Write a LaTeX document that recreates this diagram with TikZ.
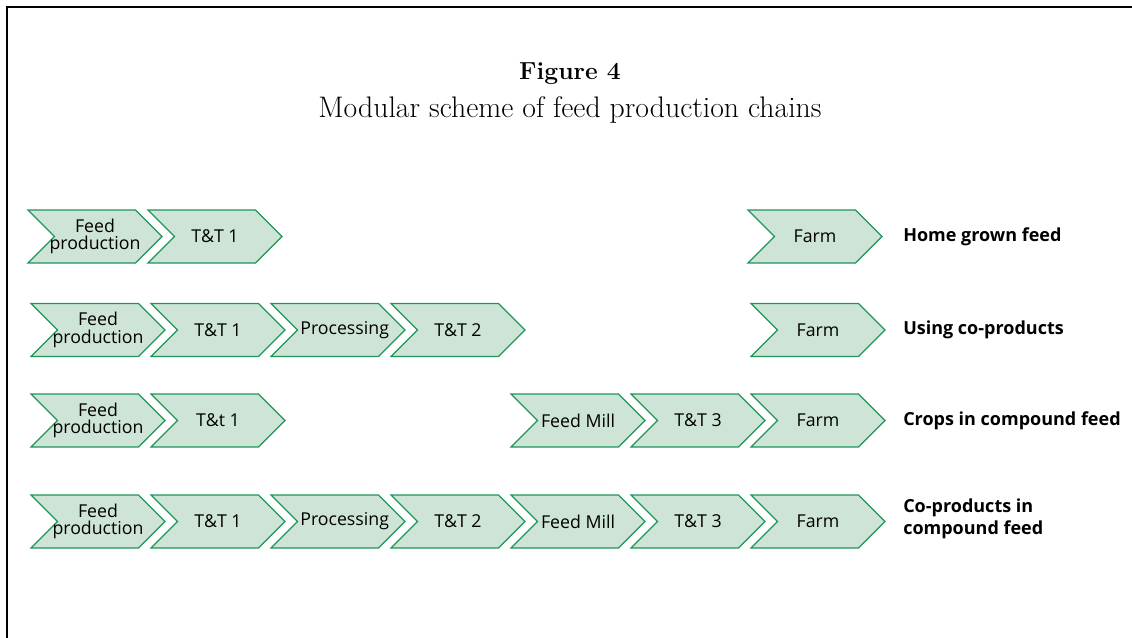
\documentclass[tikz,border=0pt]{standalone}
\usepackage{fontspec}
\newfontfamily\boxfont{Open Sans}
\usetikzlibrary{shapes.symbols}
\definecolor{chevfill}{RGB}{205,228,214}
\definecolor{chevline}{RGB}{30,150,90}
% labels that may spill past the straight part of their chevron
\newcommand{\twoline}[1]{\makebox[0pt]{\renewcommand{\arraystretch}{0.9}\begin{tabular}{@{}c@{}}#1\end{tabular}}}
\newcommand{\wideword}[1]{\makebox[0pt]{\hspace{10pt}#1}}
\tikzset{
  chev/.style={signal, signal to=east, signal from=west, draw=chevline,
    fill=chevfill, line width=0.9pt, minimum width=100.5pt,
    minimum height=39.75pt, inner sep=0pt, align=center,
    font=\boxfont\fontsize{13.3}{12}\selectfont},
  rowlabel/.style={anchor=west, inner sep=0pt, align=left,
    font=\boxfont\bfseries\fontsize{13.5}{16.5}\selectfont},
  frame/.style={line width=1.5pt}
}
\begin{document}
\begin{tikzpicture}[x=0.75pt,y=-0.75pt]
\path[use as bounding box] (0,0) rectangle (1132,637);
% open frame on the left and top
\draw[frame] (7,640) -- (7,7) -- (1135,7);
% title
\node (fig) at (570,74) {\fontsize{18.5}{24}\selectfont\bfseries Figure 4};
\node (sub) at (570,109.5) {\fontsize{22.3}{26}\selectfont Modular scheme of feed production chains};
% row 1: home grown feed
\node[chev] (a1) at (95,236.5) {\twoline{Feed\\production}};
\node[chev] (a2) at (215,236.5) {T\&T 1};
\node[chev] (a3) at (815,236.5) {Farm};
\node[rowlabel] (la) at (903,236.5) {Home grown feed};
% row 2: using co-products
\node[chev] (b1) at (98,330) {\twoline{Feed\\production}};
\node[chev] (b2) at (218,330) {T\&T 1};
\node[chev] (b3) at (338,330) {\wideword{Processing}};
\node[chev] (b4) at (458,330) {T\&T 2};
\node[chev] (b5) at (818,330) {Farm};
\node[rowlabel] (lb) at (903,330) {Using co-products};
% row 3: crops in compound feed
\node[chev] (c1) at (98,420.5) {\twoline{Feed\\production}};
\node[chev] (c2) at (218,420.5) {T\&t 1};
\node[chev] (c3) at (578,420.5) {Feed Mill};
\node[chev] (c4) at (698,420.5) {T\&T 3};
\node[chev] (c5) at (818,420.5) {Farm};
\node[rowlabel] (lc) at (903,420.5) {Crops in compound feed};
% row 4: co-products in compound feed
\node[chev] (d1) at (98,521.5) {\twoline{Feed\\production}};
\node[chev] (d2) at (218,521.5) {T\&T 1};
\node[chev] (d3) at (338,521.5) {\wideword{Processing}};
\node[chev] (d4) at (458,521.5) {T\&T 2};
\node[chev] (d5) at (578,521.5) {Feed Mill};
\node[chev] (d6) at (698,521.5) {T\&T 3};
\node[chev] (d7) at (818,521.5) {Farm};
\node[rowlabel] (ld) at (903,519) {Co-products in\\compound feed};
\end{tikzpicture}
\end{document}
